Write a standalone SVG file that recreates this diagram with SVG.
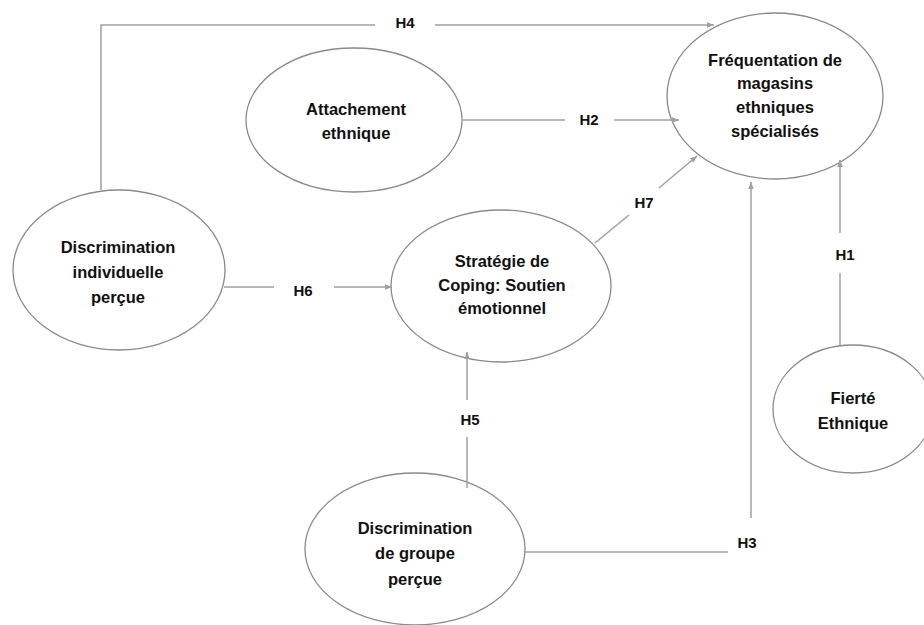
<svg xmlns="http://www.w3.org/2000/svg" width="924" height="625" viewBox="0 0 924 625">
<defs>
<style>
.node ellipse{fill:#fff;stroke:#8a8a8a;stroke-width:1.3}
.node text{font-family:"Liberation Sans",Arial,sans-serif;font-weight:bold;font-size:16.5px;fill:#111;text-anchor:middle}
.edges path{fill:none;stroke:#a0a0a0;stroke-width:1.5}
.lbl{font-family:"Liberation Sans",Arial,sans-serif;font-weight:bold;font-size:15px;fill:#111;text-anchor:middle}
</style>
<marker id="arr" viewBox="0 0 10 10" refX="10" refY="5" markerWidth="7" markerHeight="7" orient="auto" markerUnits="userSpaceOnUse">
<path d="M0,1 L10,5 L0,9 Z" fill="#a0a0a0"/>
</marker>
</defs>
<rect width="924" height="625" fill="#fff"/>
<g id="frequentation" class="node">
<ellipse cx="775" cy="96" rx="108" ry="83"/>
<text x="775" y="66">Fréquentation de</text>
<text x="775" y="89">magasins</text>
<text x="775" y="113">ethniques</text>
<text x="775" y="137">spécialisés</text>
</g>
<g id="attachement" class="node">
<ellipse cx="354" cy="120" rx="108" ry="72"/>
<text x="356" y="115">Attachement</text>
<text x="356" y="139">ethnique</text>
</g>
<g id="discrim-indiv" class="node">
<ellipse cx="119" cy="270" rx="106" ry="80"/>
<text x="118" y="253">Discrimination</text>
<text x="118" y="278">individuelle</text>
<text x="118" y="303">perçue</text>
</g>
<g id="coping" class="node">
<ellipse cx="501" cy="286" rx="110" ry="76"/>
<text x="502" y="267">Stratégie de</text>
<text x="502" y="291">Coping: Soutien</text>
<text x="502" y="314">émotionnel</text>
</g>
<g id="fierte" class="node">
<ellipse cx="853" cy="409" rx="80" ry="64"/>
<text x="853" y="404">Fierté</text>
<text x="853" y="429">Ethnique</text>
</g>
<g id="discrim-groupe" class="node">
<ellipse cx="415" cy="549" rx="110" ry="76"/>
<text x="415" y="534">Discrimination</text>
<text x="415" y="559">de groupe</text>
<text x="415" y="585">perçue</text>
</g>
<g class="edges">
<path d="M101,190 V25 H375"/>
<path d="M435,25 H714" marker-end="url(#arr)"/>
<path d="M463,120 H565"/>
<path d="M614,120 H679" marker-end="url(#arr)"/>
<path d="M595,243 L629,215"/>
<path d="M659,188 L697,156" marker-end="url(#arr)"/>
<path d="M224,287 H274"/>
<path d="M334,287 H392" marker-end="url(#arr)"/>
<path d="M467,488 V437"/>
<path d="M467,400 V352" marker-end="url(#arr)"/>
<path d="M525,552 H728"/>
<path d="M751,518 V182" marker-end="url(#arr)"/>
<path d="M840,345 V273"/>
<path d="M840,233 V160" marker-end="url(#arr)"/>
</g>
<g class="labels">
<text class="lbl" x="405" y="28">H4</text>
<text class="lbl" x="589" y="125">H2</text>
<text class="lbl" x="644" y="208">H7</text>
<text class="lbl" x="303" y="296">H6</text>
<text class="lbl" x="470" y="425">H5</text>
<text class="lbl" x="747" y="548">H3</text>
<text class="lbl" x="845" y="260">H1</text>
</g>
</svg>
